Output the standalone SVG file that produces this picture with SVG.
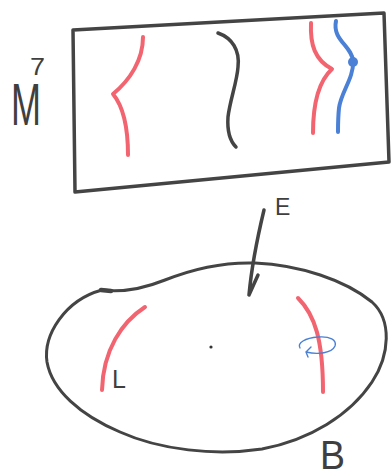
<svg xmlns="http://www.w3.org/2000/svg" width="392" height="476" viewBox="0 0 392 476">
<defs>
<style>
.ink{fill:none;stroke:#444;stroke-linecap:round;stroke-linejoin:round}
.red{fill:none;stroke:#f2646f;stroke-width:4;stroke-linecap:round;stroke-linejoin:round}
.blue{fill:none;stroke:#4a80d6;stroke-linecap:round;stroke-linejoin:round}
.lbl{font-family:"Liberation Sans",Arial,sans-serif;fill:#3f3f3f}
</style>
</defs>
<rect width="392" height="476" fill="#ffffff"/>
<g id="fiber-box">
<path class="ink" stroke-width="3.5" d="M73,30 L384,13 L389,162 L75,192 Z"/>
<text class="lbl" x="11" y="125" font-size="60" textLength="30" lengthAdjust="spacingAndGlyphs">M</text>
<text class="lbl" x="30" y="75" font-size="24" textLength="15" lengthAdjust="spacingAndGlyphs">7</text>
</g>
<g id="fiber-curves">
<path class="red" d="M143,37 C143,60 130,80 113,94 C122,105 128,125 128,155"/>
<path class="ink" stroke-width="3.5" d="M218,33 C232,38 240,50 238,67 C237,82 230,100 228,117 C227,132 230,141 236,147"/>
<path class="red" d="M311,23 C310,45 315,60 332,69 C320,80 313,100 313,133"/>
<path class="blue" stroke-width="4" d="M336,21 C332,40 352,46 353,61 C354,78 341,92 339,108 C338,118 338,125 338,132"/>
<circle cx="353" cy="62" r="5" fill="#4a80d6"/>
</g>
<g id="base">
<path class="ink" stroke-width="3" d="M102,290 C125,293 145,288 165,280 C195,268 225,262 255,263 C300,265 345,280 372,302 C392,320 390,355 372,382 C350,415 310,440 262,449 C215,456 160,450 120,432 C80,415 52,390 47,362 C43,335 65,300 102,290 Z"/>
<path class="ink" stroke-width="4.5" d="M101,290 L111,291"/>
<path class="red" d="M145,307 C122,322 103,350 102,390"/>
<path class="red" d="M298,298 C315,315 323,340 323,392"/>
<path class="blue" stroke-width="1.4" d="M318,337 C330,336 337,340 335,346 C332,353 318,355 306,352 M318,337 C305,338 297,343 300,348 M306,352 L311,347 M306,352 L308,357"/>
<circle cx="211" cy="347" r="1.6" fill="#333"/>
<text class="lbl" x="112" y="388" font-size="25">L</text>
<text class="lbl" x="320" y="469" font-size="40" textLength="25" lengthAdjust="spacingAndGlyphs">B</text>
</g>
<g id="connectors">
<path class="ink" stroke-width="3.5" d="M264,210 C258,235 252,262 249,295 M258,275 L249,295"/>
<text class="lbl" x="275" y="215" font-size="23">E</text>
</g>
</svg>
